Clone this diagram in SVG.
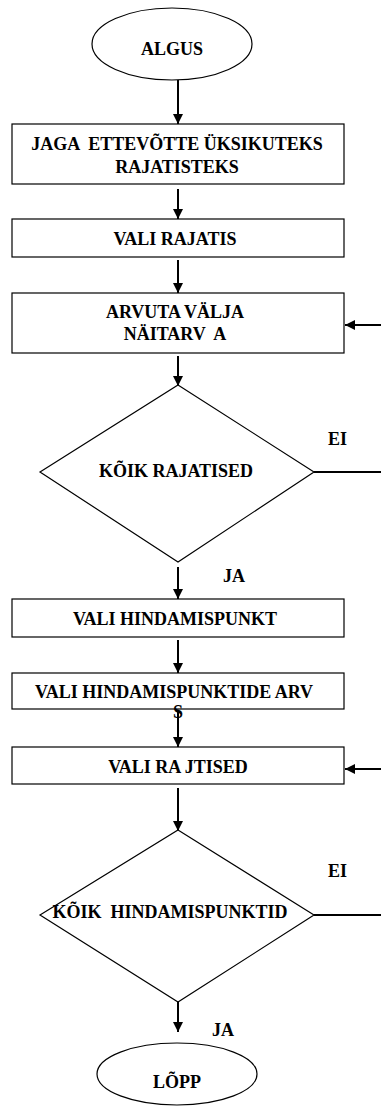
<svg xmlns="http://www.w3.org/2000/svg" width="381" height="1110" viewBox="0 0 381 1110">
<style>
.s{fill:#fff;stroke:#000;stroke-width:1.2}
text{font-family:'Liberation Serif','Times New Roman',Times,'DejaVu Serif',serif;font-weight:700;font-size:18px;fill:#000;white-space:pre}
.t{text-anchor:middle}
.c{stroke:#000;stroke-width:2;fill:none}
</style>
<defs>
<marker id="ah" markerWidth="10" markerHeight="10" viewBox="0 0 10 10" refX="10" refY="5" orient="auto" markerUnits="userSpaceOnUse">
<path d="M0,0 L10,5 L0,10 Z" fill="#000"/>
</marker>
</defs>
<rect width="381" height="1110" fill="#fff"/>
<g id="connectors">
<line class="c" x1="178" y1="80" x2="178" y2="124" marker-end="url(#ah)"/>
<line class="c" x1="178" y1="189" x2="178" y2="219" marker-end="url(#ah)"/>
<line class="c" x1="178" y1="260" x2="178" y2="293" marker-end="url(#ah)"/>
<line class="c" x1="381" y1="325" x2="345" y2="325" marker-end="url(#ah)"/>
<line class="c" x1="178" y1="356" x2="178" y2="386" marker-end="url(#ah)"/>
<line class="c" x1="314" y1="472" x2="381" y2="472"/>
<line class="c" x1="178" y1="567" x2="178" y2="599" marker-end="url(#ah)"/>
<line class="c" x1="178" y1="640" x2="178" y2="673" marker-end="url(#ah)"/>
<line class="c" x1="178" y1="710" x2="178" y2="747" marker-end="url(#ah)"/>
<line class="c" x1="381" y1="769" x2="345" y2="769" marker-end="url(#ah)"/>
<line class="c" x1="178" y1="788" x2="178" y2="831" marker-end="url(#ah)"/>
<line class="c" x1="314" y1="915" x2="381" y2="915"/>
<line class="c" x1="178" y1="1000" x2="178" y2="1032" marker-end="url(#ah)"/>
<text x="328" y="445">EI</text>
<text x="223" y="582">JA</text>
<text x="328" y="877">EI</text>
<text x="212" y="1036">JA</text>
</g>
<g id="algus">
<ellipse class="s" cx="172" cy="44" rx="80" ry="36"/>
<text class="t" x="172" y="55">ALGUS</text>
</g>
<g id="jaga">
<rect class="s" x="12" y="124" width="332" height="60"/>
<text class="t" x="177" y="150" xml:space="preserve">JAGA  ETTEVÕTTE ÜKSIKUTEKS</text>
<text class="t" x="177" y="173">RAJATISTEKS</text>
</g>
<g id="vali-rajatis">
<rect class="s" x="12" y="219" width="332" height="38"/>
<text class="t" x="175" y="245">VALI RAJATIS</text>
</g>
<g id="arvuta">
<rect class="s" x="12" y="293" width="332" height="60"/>
<text class="t" x="175" y="318">ARVUTA VÄLJA</text>
<text class="t" x="175" y="340" xml:space="preserve">NÄITARV  A</text>
</g>
<g id="koik-rajatised">
<polygon class="s" points="178,385 314,472 178,562 40,472"/>
<text class="t" x="176" y="477">KÕIK RAJATISED</text>
</g>
<g id="vali-hindamispunkt">
<rect class="s" x="12" y="599" width="332" height="38"/>
<text class="t" x="175" y="625">VALI HINDAMISPUNKT</text>
</g>
<g id="vali-arvs">
<rect class="s" x="12" y="673" width="332" height="36"/>
<text class="t" x="174" y="698">VALI HINDAMISPUNKTIDE ARV</text>
<text class="t" x="178" y="718">S</text>
</g>
<g id="vali-rajtised">
<rect class="s" x="12" y="747" width="332" height="37"/>
<text class="t" x="178" y="773">VALI RA JTISED</text>
</g>
<g id="koik-hindamispunktid">
<polygon class="s" points="178,830 314,915 178,1002 40,915"/>
<text class="t" x="170" y="918" xml:space="preserve">KÕIK  HINDAMISPUNKTID</text>
</g>
<g id="lopp">
<ellipse class="s" cx="177" cy="1074" rx="80" ry="31"/>
<text class="t" x="177" y="1088">LÕPP</text>
</g>
</svg>
